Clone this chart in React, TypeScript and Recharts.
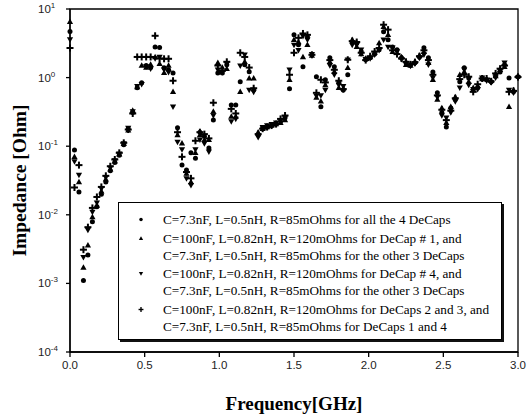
import React from 'react';
import {
  ScatterChart,
  Scatter,
  XAxis,
  YAxis,
  Legend,
  ReferenceArea,
} from 'recharts';

// frequency sweep points (GHz), shared by all four runs
const freqGHz = [
  0.0, 0.03, 0.06, 0.09, 0.12, 0.15, 0.18, 0.21, 0.24, 0.27,
  0.3, 0.33, 0.36, 0.39, 0.42, 0.45, 0.48, 0.51, 0.54, 0.57,
  0.6, 0.63, 0.66, 0.69, 0.72, 0.75, 0.78, 0.81, 0.84, 0.87,
  0.9, 0.93, 0.96, 0.99, 1.02, 1.05, 1.08, 1.11, 1.14, 1.17,
  1.2, 1.23, 1.26, 1.29, 1.32, 1.35, 1.38, 1.41, 1.44, 1.47,
  1.5, 1.53, 1.56, 1.59, 1.62, 1.65, 1.68, 1.71, 1.74, 1.77,
  1.8, 1.83, 1.86, 1.89, 1.92, 1.95, 1.98, 2.01, 2.04, 2.07,
  2.1, 2.13, 2.16, 2.19, 2.22, 2.25, 2.28, 2.31, 2.34, 2.37,
  2.4, 2.43, 2.46, 2.49, 2.52, 2.55, 2.58, 2.61, 2.64, 2.67,
  2.7, 2.73, 2.76, 2.79, 2.82, 2.85, 2.88, 2.91, 2.94, 2.97,
  3.0,
];

// impedance (Ohm)
const zAllSmall = [
  4.7, 0.088, 0.0215, 0.0011, 0.0026, 0.0079, 0.0131, 0.02, 0.03, 0.044,
  0.058, 0.074, 0.105, 0.18, 0.31, 0.71, 0.84, 1.5, 1.4, 2.8,
  2.74, 1.39, 1.3, 1.17, 0.185, 0.053, 0.045, 0.08, 0.067, 0.16,
  0.14, 0.094, 0.24, 1.17, 1.17, 1.54, 0.4, 0.4, 0.87, 1.54,
  1.22, 0.66, 0.146, 0.185, 0.19, 0.2, 0.21, 0.23, 0.26, 0.69,
  4.2, 3.0, 1.44, 3.9, 2.15, 1.03, 0.375, 0.93, 1.94, 1.44,
  0.84, 0.66, 1.1, 3.3, 3.2, 2.4, 1.82, 1.94, 2.2, 2.55,
  4.66, 3.56, 2.8, 2.55, 1.94, 1.65, 1.54, 1.65, 2.0, 2.72,
  1.94, 1.21, 0.6, 0.31, 0.19, 0.36, 0.48, 0.87, 1.39, 0.99,
  0.66, 0.71, 0.99, 0.93, 0.87, 1.1, 1.21, 1.54, 0.99, 0.62,
  1.03,
];

const zBigCap1 = [
  6.5, 0.07, 0.03, 0.0017, 0.0036, 0.0093, 0.0136, 0.022, 0.033, 0.046,
  0.06, 0.076, 0.108, 0.17, 0.33, 0.73, 1.5, 1.4, 1.55, 2.0,
  1.59, 1.17, 1.5, 0.62, 0.145, 0.11, 0.04, 0.03, 0.08, 0.145,
  0.124, 0.124, 0.32, 1.64, 1.4, 1.34, 0.27, 0.27, 0.62, 1.7,
  0.98, 0.98, 0.16, 0.18, 0.19, 0.2, 0.21, 0.22, 0.24, 0.93,
  3.56, 3.3, 2.0, 3.0, 2.1, 0.51, 0.45, 0.78, 1.7, 1.21,
  0.71, 0.7, 1.39, 3.56, 2.8, 2.2, 1.9, 2.0, 2.3, 3.2,
  5.5, 4.2, 2.38, 2.3, 2.0, 1.54, 1.5, 1.7, 2.1, 2.38,
  1.65, 0.93, 0.48, 0.36, 0.22, 0.375, 0.52, 1.1, 1.21, 0.87,
  0.71, 0.75, 0.95, 0.95, 0.9, 1.05, 1.3, 1.44, 0.375, 0.66,
  1.05,
];

const zBigCap4 = [
  3.6, 0.06, 0.038, 0.0024, 0.006, 0.011, 0.015, 0.024, 0.035, 0.048,
  0.062, 0.078, 0.11, 0.185, 0.32, 0.75, 0.8, 1.45, 1.35, 1.9,
  2.0, 1.3, 1.2, 0.375, 0.115, 0.09, 0.034, 0.027, 0.09, 0.124,
  0.11, 0.083, 0.28, 1.3, 1.2, 1.6, 0.23, 0.25, 1.49, 2.16,
  0.66, 0.62, 0.135, 0.19, 0.2, 0.21, 0.22, 0.24, 0.26, 1.3,
  3.0, 2.5, 4.0, 3.56, 2.2, 0.54, 0.55, 0.66, 1.5, 1.1,
  0.78, 0.75, 1.82, 3.0, 3.0, 2.55, 1.85, 1.9, 2.16, 2.5,
  3.56, 2.8, 2.72, 2.4, 1.85, 1.6, 1.48, 1.6, 1.94, 2.16,
  1.54, 1.0, 0.52, 0.28, 0.26, 0.31, 0.45, 0.71, 1.3, 0.78,
  0.68, 0.68, 1.0, 0.9, 0.85, 1.0, 1.25, 1.65, 0.66, 0.6,
  1.0,
];

const zBigCap23 = [
  2.7, 0.025, 0.053, 0.0031, 0.0066, 0.0126, 0.0182, 0.0255, 0.037, 0.051,
  0.064, 0.08, 0.112, 0.175, 0.3, 2.0, 2.0, 2.0, 2.0, 4.07,
  1.9, 1.88, 1.88, 0.9, 0.16, 0.07, 0.042, 0.034, 0.12, 0.16,
  0.15, 0.13, 0.43, 1.5, 1.25, 1.7, 0.35, 0.3, 2.3, 2.0,
  1.4, 0.7, 0.15, 0.18, 0.19, 0.2, 0.21, 0.25, 0.28, 1.1,
  2.3, 3.8, 4.4, 4.2, 2.15, 0.6, 0.93, 0.85, 1.8, 1.3,
  0.9, 0.68, 1.82, 3.4, 3.3, 2.3, 1.8, 2.05, 2.4, 2.7,
  5.9, 5.0, 2.5, 2.2, 1.9, 1.7, 1.56, 1.68, 2.05, 2.5,
  1.8, 1.1, 0.55, 0.34, 0.24, 0.33, 0.5, 0.95, 1.1, 1.03,
  0.62, 0.8, 0.97, 0.97, 0.88, 1.15, 1.35, 1.5, 0.62, 0.64,
  1.02,
];

const xTicks = [0, 0.5, 1, 1.5, 2, 2.5, 3];
const yTicks = [0.0001, 0.001, 0.01, 0.1, 1, 10];

const legendLines = [
  ['C=7.3nF, L=0.5nH, R=85mOhms for all the 4 DeCaps'],
  ['C=100nF, L=0.82nH, R=120mOhms for DeCap # 1, and', 'C=7.3nF, L=0.5nH, R=85mOhms for the other 3 DeCaps'],
  ['C=100nF, L=0.82nH, R=120mOhms for DeCap # 4, and', 'C=7.3nF, L=0.5nH, R=85mOhms for the other 3 DeCaps'],
  ['C=100nF, L=0.82nH, R=120mOhms for DeCaps 2 and 3, and', 'C=7.3nF, L=0.5nH, R=85mOhms for DeCaps 1 and 4'],
];

const toPoints = (z: number[]) => freqGHz.map((f, i) => ({ f, z: z[i] }));

const serif = '"Liberation Serif", "Times New Roman", serif';
const sans = '"Liberation Sans", Arial, sans-serif';

type MarkerKind = 'dot' | 'up' | 'down' | 'plus';

// s scales the glyph (legend uses smaller ones)
const markerPath = (kind: MarkerKind, cx: number, cy: number, s = 1) => {
  switch (kind) {
    case 'dot':
      return <circle cx={cx} cy={cy} r={2.5 * s} fill="#000" />;
    case 'up':
      return <polygon points={`${cx},${cy - 3.3 * s} ${cx - 3.1 * s},${cy + 2.2 * s} ${cx + 3.1 * s},${cy + 2.2 * s}`} fill="#000" />;
    case 'down':
      return <polygon points={`${cx},${cy + 3.3 * s} ${cx - 3.1 * s},${cy - 2.2 * s} ${cx + 3.1 * s},${cy - 2.2 * s}`} fill="#000" />;
    default:
      return (
        <g fill="#000">
          <rect x={cx - 3.5 * s} y={cy - 1 * s} width={7 * s} height={2 * s} />
          <rect x={cx - 1 * s} y={cy - 3.5 * s} width={2 * s} height={7 * s} />
        </g>
      );
  }
};

const makeShape = (kind: MarkerKind) => (props: any) => {
  const { cx, cy } = props;
  if (cx == null || cy == null || isNaN(cy)) return <g />;
  return markerPath(kind, cx, cy);
};

const series: { name: string; z: number[]; kind: MarkerKind }[] = [
  { name: 'all', z: zAllSmall, kind: 'dot' },
  { name: 'cap1', z: zBigCap1, kind: 'up' },
  { name: 'cap4', z: zBigCap4, kind: 'down' },
  { name: 'cap23', z: zBigCap23, kind: 'plus' },
];

const YTick = (props: any) => {
  const { x, y, payload } = props;
  const exp = Math.round(Math.log10(payload.value));
  return (
    <text x={x - 22} y={y} dy={4} fontSize={11.5} fontFamily={sans} fill="#222">
      10
      <tspan dy={-5} fontSize={8}>{exp}</tspan>
    </text>
  );
};

const LegendBox = () => (
  <div
    style={{
      width: 384,
      height: 138,
      boxSizing: 'border-box',
      border: '1px solid #000',
      boxShadow: '2px 2px 0 #111',
      background: '#fff',
      paddingTop: 8,
      fontFamily: serif,
      fontSize: 13.2,
      color: '#000',
    }}
  >
    {series.map((s, i) => (
      <div key={s.name} style={{ display: 'flex', marginTop: i === 0 ? 0 : 1.5 }}>
        <svg width={44} height={17} style={{ flexShrink: 0 }}>
          {markerPath(s.kind, 22, 8.5, 0.7)}
        </svg>
        <div>
          {legendLines[i].map((line) => (
            <div key={line} style={{ height: 17, lineHeight: '17px', whiteSpace: 'nowrap' }}>
              {line}
            </div>
          ))}
        </div>
      </div>
    ))}
  </div>
);

export default function App() {
  return (
    <div style={{ position: 'absolute', left: 0, top: 0, width: 527, height: 416, background: '#fff' }}>
      <ScatterChart width={527} height={416} margin={{ top: 9, right: 9, bottom: 0, left: 0 }}>
        <XAxis
          type="number"
          dataKey="f"
          domain={[0, 3]}
          ticks={xTicks}
          tickFormatter={(v: number) => v.toFixed(1)}
          height={64}
          tickSize={5}
          tickMargin={4}
          stroke="#000"
          strokeWidth={1.3}
          tick={{ fontSize: 11.5, fontFamily: sans, fill: '#222' }}
          label={{
            value: 'Frequency[GHz]',
            position: 'insideBottom',
            offset: 6,
            style: { fontFamily: serif, fontWeight: 'bold', fontSize: 19, fill: '#000' },
          }}
        />
        <YAxis
          type="number"
          dataKey="z"
          scale="log"
          domain={[0.0001, 10]}
          ticks={yTicks}
          allowDataOverflow
          width={70}
          tickSize={4}
          tickMargin={6}
          stroke="#000"
          strokeWidth={1.3}
          tick={<YTick />}
          label={{
            content: (p: any) => {
              const vb = p.viewBox || { x: 0, y: 9, width: 70, height: 343 };
              const cy = vb.y + vb.height / 2;
              return (
                <text
                  x={19}
                  y={cy}
                  transform={`rotate(-90 19 ${cy})`}
                  textAnchor="middle"
                  dominantBaseline="central"
                  fontFamily={serif}
                  fontWeight="bold"
                  fontSize={19.5}
                  fill="#000"
                >
                  Impedance [Ohm]
                </text>
              );
            },
          }}
        />
        <ReferenceArea x1={0} x2={3} y1={0.0001} y2={10} fill="none" stroke="#000" strokeWidth={1.3} ifOverflow="visible" />
        {series.map((s) => (
          <Scatter
            key={s.name}
            name={s.name}
            data={toPoints(s.z)}
            fill="#000"
            shape={makeShape(s.kind)}
            isAnimationActive={false}
          />
        ))}
        <Legend
          layout="horizontal"
          verticalAlign="middle"
          align="center"
          content={() => <LegendBox />}
          wrapperStyle={{ left: 118, top: 202, width: 384, height: 138 }}
        />
      </ScatterChart>
    </div>
  );
}
